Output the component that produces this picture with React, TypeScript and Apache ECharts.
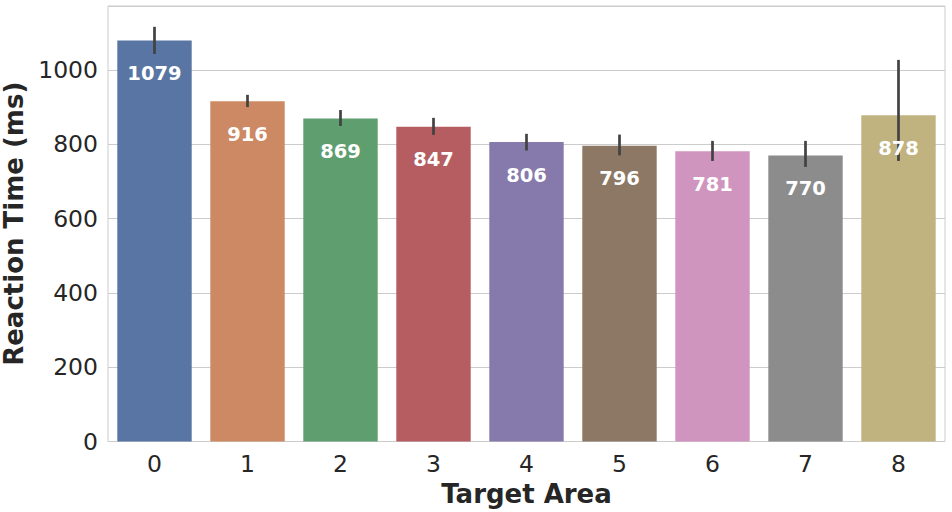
import React, { useEffect, useRef } from "react";
import * as echarts from "echarts";

const categories = ["0", "1", "2", "3", "4", "5", "6", "7", "8"];
const values = [1079, 916, 869, 847, 806, 796, 781, 770, 878];
const errLow = [1043, 900, 849, 825, 783, 770, 755, 739, 755];
const errHigh = [1116, 933, 892, 871, 828, 826, 809, 809, 1027];
const colors = ["#5975A4", "#CC8963", "#5F9E6E", "#B55D60", "#857AAB", "#8D7866", "#D095BF", "#8C8C8C", "#C1B37F"];
const yTicks = [0, 200, 400, 600, 800, 1000];

export default function App() {
  const ref = useRef<HTMLDivElement>(null);
  useEffect(() => {
    if (!ref.current) return;
    const chart = echarts.init(ref.current, undefined, { renderer: "svg" });
    const font = "DejaVu Sans";
    chart.setOption({
      animation: false,
      grid: {
        left: 108,
        right: 7,
        top: 6,
        bottom: 70.5,
        show: true,
        borderColor: "#cccccc",
        borderWidth: 1,
        containLabel: false,
        outerBoundsMode: "none",
      },
      xAxis: {
        type: "category",
        data: categories,
        name: "Target Area",
        nameLocation: "middle",
        nameGap: 39,
        nameTextStyle: { fontFamily: font, fontSize: 26, fontWeight: "bold", color: "#262626" },
        axisLine: { show: false },
        axisTick: { show: false },
        axisLabel: { fontFamily: font, fontSize: 23.5, color: "#262626", margin: 10 },
      },
      yAxis: {
        type: "value",
        min: 0,
        max: 1172,
        interval: 200,
        name: "Reaction Time (ms)",
        nameLocation: "middle",
        nameGap: 73,
        nameTextStyle: { fontFamily: font, fontSize: 26, fontWeight: "bold", color: "#262626" },
        axisLine: { show: false },
        axisTick: { show: false },
        axisLabel: {
          fontFamily: font,
          fontSize: 23.5,
          color: "#262626",
          margin: 10,
          formatter: (v: number) => (yTicks.includes(v) ? String(v) : ""),
        },
        splitLine: { lineStyle: { color: "#cccccc", width: 1 } },
      },
      series: [
        {
          type: "bar",
          barCategoryGap: "20%",
          data: values.map((v, i) => ({ value: v, itemStyle: { color: colors[i] } })),
        },
        {
          type: "custom",
          data: categories.map((_, i) => [i, errLow[i], errHigh[i], values[i]]),
          renderItem: (params: any, api: any) => {
            const p1 = api.coord([api.value(0), api.value(1)]);
            const p2 = api.coord([api.value(0), api.value(2)]);
            const pt = api.coord([api.value(0), api.value(3)]);
            return {
              type: "group",
              children: [
                {
                  type: "line",
                  shape: { x1: p1[0], y1: p1[1], x2: p2[0], y2: p2[1] },
                  style: { stroke: "#424242", lineWidth: 2.7 },
                },
                {
                  type: "text",
                  x: pt[0],
                  y: pt[1] + 33,
                  style: {
                    text: String(api.value(3)),
                    fill: "#ffffff",
                    font: `bold 19.5px "${font}"`,
                    align: "center",
                    verticalAlign: "middle",
                  },
                },
              ],
            };
          },
          z: 10,
        },
      ],
    });
    return () => chart.dispose();
  }, []);
  return <div ref={ref} style={{ width: 952, height: 512, position: "absolute", left: 0, top: 0 }} />;
}
